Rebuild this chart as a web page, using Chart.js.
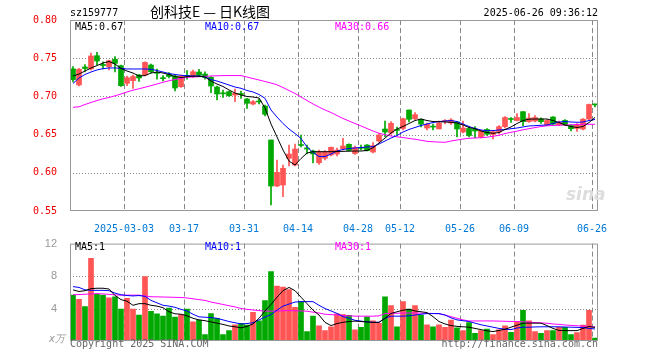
<!DOCTYPE html>
<html>
<head>
<meta charset="utf-8">
<script src="https://cdn.jsdelivr.net/npm/chart.js@4.4.1/dist/chart.umd.min.js"></script>
<style>
  body { margin: 0; background: #fff; width: 660px; height: 360px; position: relative; overflow: hidden;
         font-family: 'DejaVu Sans Mono', monospace; font-size: 10px; }
  canvas { position: absolute; left: 0; }
  .t { position: absolute; white-space: pre; line-height: 12px; }
</style>
</head>
<body>
<canvas id="kline" width="660" height="232" style="top:0"></canvas>
<canvas id="vol" width="660" height="128" style="top:232px"></canvas>

<div class="t" style="left:70px;top:7px">sz159777</div>
<div class="t" style="left:150px;top:2px;font:14px 'Noto Sans CJK SC';line-height:18px">创科技E — 日K线图</div>
<div class="t" style="right:62px;top:7px">2025-06-26 09:36:12</div>

<div class="t" style="left:75px;top:21px;color:#000">MA5:0.67</div>
<div class="t" style="left:205px;top:21px;color:#00f">MA10:0.67</div>
<div class="t" style="left:335px;top:21px;color:#f0f">MA30:0.66</div>
<div class="t" style="left:566px;top:184px;font:italic bold 17px 'DejaVu Sans';color:#ddd">sina</div>

<div class="t" style="left:75px;top:241px;color:#000">MA5:1</div>
<div class="t" style="left:205px;top:241px;color:#00f">MA10:1</div>
<div class="t" style="left:335px;top:241px;color:#f0f">MA30:1</div>
<div class="t" style="left:49px;top:333px;color:#999;font-style:italic">x万</div>

<div class="t" style="left:70px;top:338px;color:#666">Copyright 2025 SINA.COM</div>
<div class="t" style="right:62px;top:338px;color:#666">http://finance.sina.com.cn</div>

<script>
// trading days shown on the chart
const dates = [
  '2025-02-18','2025-02-19','2025-02-20','2025-02-21','2025-02-24','2025-02-25','2025-02-26','2025-02-27','2025-02-28',
  '2025-03-03','2025-03-04','2025-03-05','2025-03-06','2025-03-07','2025-03-10','2025-03-11','2025-03-12','2025-03-13','2025-03-14',
  '2025-03-17','2025-03-18','2025-03-19','2025-03-20','2025-03-21','2025-03-24','2025-03-25','2025-03-26','2025-03-27','2025-03-28',
  '2025-03-31','2025-04-01','2025-04-02','2025-04-03','2025-04-07','2025-04-08','2025-04-09','2025-04-10','2025-04-11',
  '2025-04-14','2025-04-15','2025-04-16','2025-04-17','2025-04-18','2025-04-21','2025-04-22','2025-04-23','2025-04-24','2025-04-25',
  '2025-04-28','2025-04-29','2025-04-30','2025-05-06','2025-05-07','2025-05-08','2025-05-09',
  '2025-05-12','2025-05-13','2025-05-14','2025-05-15','2025-05-16','2025-05-19','2025-05-20','2025-05-21','2025-05-22','2025-05-23',
  '2025-05-26','2025-05-27','2025-05-28','2025-05-29','2025-05-30','2025-06-03','2025-06-04','2025-06-05','2025-06-06',
  '2025-06-09','2025-06-10','2025-06-11','2025-06-12','2025-06-13','2025-06-16','2025-06-17','2025-06-18','2025-06-19','2025-06-20',
  '2025-06-23','2025-06-24','2025-06-25','2025-06-26'
];

// x axis labels
const tickDates = ['2025-03-03','2025-03-17','2025-03-31','2025-04-14','2025-04-28','2025-05-12','2025-05-26','2025-06-09','2025-06-26'];
const tickLabels = ['2025-03-03','03-17','03-31','04-14','04-28','05-12','05-26','06-09','06-26'];

const opens = [
  0.736,0.715,0.7385,0.7359,0.7533,0.7418,0.7389,0.7486,0.7402,0.7171,
  0.7206,0.728,0.728,0.7411,0.731,0.7241,0.7287,0.7267,0.7127,0.7274,
  0.7267,0.7319,0.7293,0.725,0.7123,0.7045,0.7062,0.7018,0.7035,0.6966,
  0.69,0.6936,0.6874,0.6429,0.5827,0.584,0.619,0.6102,0.637,0.6325,
  0.6285,0.6132,0.619,0.6233,0.6246,0.6316,0.6373,0.6253,0.633,0.6364,
  0.6272,0.6416,0.6573,0.6521,0.6565,0.658,0.6822,0.6708,0.6701,0.6586,
  0.6608,0.6575,0.667,0.6652,0.6665,0.6534,0.658,0.6573,0.6469,0.6567,
  0.6501,0.6534,0.6604,0.6708,0.6685,0.68,0.6669,0.6678,0.6704,0.6626,
  0.673,0.6626,0.6685,0.6619,0.658,0.6573,0.6704,0.6898
];
const closes = [
  0.722,0.7355,0.7365,0.7529,0.7463,0.7404,0.7467,0.7433,0.714,0.7245,
  0.726,0.7241,0.7446,0.7323,0.7302,0.7232,0.726,0.711,0.7267,0.7263,
  0.7323,0.7276,0.725,0.7136,0.7031,0.7034,0.7009,0.704,0.7025,0.691,
  0.6931,0.6927,0.6766,0.5827,0.6006,0.6059,0.6246,0.6311,0.6357,0.6311,
  0.6246,0.6276,0.6276,0.6334,0.6298,0.6351,0.6292,0.6331,0.632,0.6289,
  0.6355,0.6495,0.6534,0.6648,0.6555,0.6708,0.67,0.6761,0.6637,0.6636,
  0.6598,0.6652,0.6682,0.6691,0.6573,0.6586,0.6488,0.6547,0.6547,0.6504,
  0.6538,0.6604,0.6724,0.6698,0.6724,0.6669,0.6717,0.6724,0.6669,0.6685,
  0.6636,0.6661,0.6626,0.6577,0.6632,0.6702,0.6894,0.6889
];
const highs = [
  0.739,0.7368,0.7418,0.7568,0.7577,0.7454,0.7476,0.752,0.7411,0.7267,
  0.728,0.7287,0.7454,0.7424,0.7359,0.7271,0.7313,0.728,0.728,0.7339,
  0.7346,0.7355,0.7323,0.726,0.7136,0.7084,0.7071,0.7097,0.7071,0.6975,
  0.6944,0.6966,0.6887,0.6429,0.6167,0.6102,0.6364,0.6377,0.6495,0.6364,
  0.6298,0.6298,0.6292,0.6338,0.6325,0.645,0.638,0.6351,0.6364,0.637,
  0.6397,0.6515,0.6678,0.6669,0.66,0.6717,0.6822,0.6789,0.6704,0.6652,
  0.6639,0.6678,0.6697,0.671,0.6671,0.6678,0.6606,0.6604,0.656,0.658,
  0.6547,0.6617,0.6737,0.6724,0.6776,0.6802,0.6776,0.675,0.6721,0.6697,
  0.6737,0.6678,0.6697,0.6632,0.6645,0.6711,0.6901,0.6901
];
const lows = [
  0.719,0.7136,0.7319,0.7346,0.7411,0.7359,0.7346,0.7319,0.713,0.714,
  0.7106,0.7195,0.7267,0.7306,0.7224,0.7202,0.7241,0.7071,0.7116,0.7224,
  0.725,0.7258,0.7224,0.7048,0.6953,0.6988,0.6999,0.6931,0.6975,0.6844,
  0.6887,0.69,0.6743,0.5578,0.5818,0.5687,0.6089,0.6089,0.6338,0.6246,
  0.6128,0.6111,0.6167,0.622,0.622,0.6298,0.6285,0.624,0.6298,0.6285,
  0.6259,0.6403,0.6473,0.6501,0.6495,0.656,0.6665,0.6691,0.66,0.656,
  0.656,0.6573,0.6639,0.6632,0.6469,0.6521,0.6469,0.6456,0.6456,0.6488,
  0.6442,0.6508,0.6586,0.6659,0.6678,0.6617,0.6659,0.6665,0.6645,0.6619,
  0.6632,0.6617,0.6617,0.6547,0.6541,0.656,0.6691,0.6861
];

const ma5 = [
  0.7267,0.7293,0.7332,0.7372,0.7404,0.7437,0.7457,0.7424,0.7365,0.7332,
  0.7306,0.7267,0.7273,0.7306,0.7319,0.7306,0.7287,0.7260,0.7247,0.7258,
  0.7264,0.7263,0.7254,0.7201,0.7162,0.7130,0.7084,0.7044,0.7018,0.6999,
  0.6992,0.6979,0.6848,0.6639,0.6469,0.6298,0.6154,0.6102,0.6187,0.6259,
  0.6276,0.6276,0.6276,0.6276,0.6279,0.6281,0.6283,0.6285,0.6285,0.6292,
  0.6328,0.6390,0.6455,0.6521,0.6573,0.6606,0.6645,0.6684,0.6704,0.6684,
  0.6671,0.6669,0.6665,0.6661,0.6652,0.6626,0.6593,0.6577,0.6547,0.6527,
  0.6517,0.6527,0.6567,0.6600,0.6645,0.6684,0.6702,0.6704,0.6704,0.6704,
  0.6684,0.6658,0.6626,0.6606,0.6593,0.6606,0.6658,0.6724
];
const ma10 = [
  0.7169,0.7241,0.7287,0.7319,0.7346,0.7363,0.7372,0.7372,0.7368,0.7359,
  0.7359,0.7359,0.7359,0.7355,0.7339,0.7319,0.7300,0.7287,0.7276,0.7271,
  0.7267,0.7267,0.7254,0.7221,0.7201,0.7175,0.7149,0.7123,0.7106,0.7077,
  0.7058,0.7025,0.6975,0.6822,0.6730,0.6645,0.6573,0.6514,0.6449,0.6338,
  0.6266,0.6213,0.6213,0.6246,0.6285,0.6305,0.6318,0.6325,0.6331,0.6338,
  0.6342,0.6377,0.6416,0.6455,0.6488,0.6534,0.6567,0.6593,0.6619,0.6639,
  0.6658,0.6671,0.6678,0.6684,0.6671,0.6639,0.6606,0.6580,0.6560,0.6551,
  0.6553,0.6560,0.6567,0.6577,0.6586,0.6600,0.6613,0.6617,0.6622,0.6626,
  0.6645,0.6665,0.6671,0.6665,0.6661,0.6665,0.6684,0.6698
];
const ma30 = [
  0.6857,0.6864,0.6894,0.6920,0.6946,0.6969,0.6986,0.7008,0.7031,0.7058,
  0.7081,0.7100,0.7120,0.7141,0.7162,0.7185,0.7205,0.7221,0.7237,0.7249,
  0.7254,0.7258,0.7263,0.7267,0.7270,0.7272,0.7273,0.7273,0.7272,0.7254,
  0.7234,0.7215,0.7195,0.7175,0.7152,0.7116,0.7077,0.7038,0.6992,0.6946,
  0.6901,0.6861,0.6822,0.6789,0.6750,0.6711,0.6678,0.6645,0.6613,0.6580,
  0.6547,0.6518,0.6499,0.6482,0.6471,0.6462,0.6449,0.6439,0.6426,0.6412,
  0.6406,0.6402,0.6399,0.6416,0.6429,0.6442,0.6452,0.6456,0.6459,0.6466,
  0.6478,0.6491,0.6514,0.6530,0.6545,0.6563,0.6577,0.6592,0.6605,0.6615,
  0.6619,0.6623,0.6626,0.6628,0.6632,0.6635,0.6635,0.6635
];

// volume, 万手
const volumes = [
  5.65,5.13,4.25,10.2,5.76,5.65,5.33,5.45,3.93,5.25,
  3.93,3.18,7.95,3.66,3.34,3.06,4.05,2.94,3.27,3.93,
  2.35,2.59,0.80,3.38,2.79,0.80,1.28,1.99,2.19,1.95,
  3.54,2.47,4.97,8.55,6.76,6.64,6.32,4.14,4.85,1.16,
  3.06,1.87,1.28,1.75,3.34,3.27,3.15,1.39,1.67,2.98,
  2.47,2.19,5.45,4.37,1.75,4.85,3.93,4.37,3.18,1.99,
  1.75,1.99,1.67,2.59,1.63,1.28,2.27,0.95,1.28,1.48,
  0.80,1.39,1.87,1.07,2.38,3.78,2.47,1.16,0.95,1.28,
  1.28,1.67,1.67,0.80,1.04,1.95,3.78,0.36
];
const volMa5 = [
  6.3,6.1,6.2,6.45,6.5,6.5,6.4,5.6,5.1,4.9,
  4.4,4.6,4.6,4.4,4.3,4.1,3.6,3.35,3.3,3.1,
  2.8,2.6,2.5,2.35,2.2,2.05,1.85,1.75,1.62,1.8,
  2.1,2.8,3.7,4.5,5.4,6.2,6.6,6.2,5.4,4.6,
  3.8,3.2,2.3,1.9,2.15,2.3,2.4,2.45,2.4,2.35,
  2.3,2.3,2.8,3.4,3.6,3.8,3.9,3.7,3.6,3.5,
  3.0,2.4,2.1,1.9,1.8,1.75,1.7,1.55,1.4,1.25,
  1.16,1.3,1.45,1.7,1.95,2.2,2.2,2.2,2.2,1.9,
  1.55,1.3,1.28,1.28,1.28,1.55,1.79,1.67
];
const volMa10 = [
  6.7,6.6,6.3,6.24,6.24,6.24,6.2,5.9,5.7,5.6,
  5.55,5.6,5.5,5.0,4.7,4.4,4.3,4.15,3.9,3.7,
  3.3,2.97,2.93,2.88,2.8,2.6,2.4,2.25,2.1,2.15,
  2.25,2.6,2.95,3.25,3.8,4.3,4.55,4.8,4.85,4.85,
  4.85,4.4,4.0,3.7,3.4,3.0,2.8,2.55,2.45,2.35,
  2.3,2.3,2.8,3.06,3.06,3.06,3.1,3.2,3.3,3.38,
  3.38,3.38,3.2,2.85,2.6,2.5,2.4,2.2,2.0,1.85,
  1.7,1.55,1.45,1.4,1.6,1.7,1.7,1.73,1.75,1.75,
  1.75,1.75,1.72,1.7,1.68,1.65,1.55,1.48
];
const volMa30 = [
  5.7,5.72,5.76,5.8,5.84,5.8,5.75,5.68,5.65,5.65,
  5.65,5.65,5.55,5.45,5.44,5.42,5.4,5.38,5.36,5.3,
  5.2,5.1,5.0,4.8,4.65,4.5,4.35,4.2,4.0,3.9,
  3.82,3.75,3.68,3.68,3.7,3.72,3.74,3.72,3.7,3.67,
  3.55,3.45,3.3,3.25,3.2,3.15,3.1,3.06,3.06,3.06,
  3.06,3.1,3.38,3.4,3.42,3.44,3.46,3.45,3.43,3.41,
  3.39,3.36,3.2,3.0,2.8,2.6,2.47,2.47,2.47,2.47,
  2.47,2.45,2.43,2.41,2.39,2.36,2.32,2.27,2.23,2.19,
  2.1,2.05,1.97,1.92,1.88,1.84,1.8,1.75
];

const RED = 'rgb(255,85,85)';
const GREEN = 'rgb(0,168,0)';
const GRID = '#888';
const mono = { family: 'DejaVu Sans Mono', size: 10 };

const candleColors = opens.map((o, i) => closes[i] >= o ? RED : GREEN);
const tickIdx = tickDates.map(d => dates.indexOf(d));

// dashed date lines and dotted level lines, put behind the marks
const gridLines = {
  id: 'gridLines',
  afterDatasetsDraw(chart) {
    const { ctx, chartArea: a, scales: { x, y } } = chart;
    const half = (x.getPixelForValue(1) - x.getPixelForValue(0)) / 2;
    ctx.save();
    ctx.globalCompositeOperation = 'destination-over';
    ctx.lineWidth = 1;
    ctx.strokeStyle = GRID;
    ctx.setLineDash([5, 3]);
    tickIdx.forEach(i => {
      const px = Math.round(x.getPixelForValue(i) - half) + 0.5;
      ctx.beginPath();
      ctx.moveTo(px, a.top);
      ctx.lineTo(px, a.bottom);
      ctx.stroke();
    });
    ctx.setLineDash([1, 2]);
    y.ticks.forEach(t => {
      if (t.value <= y.min + 1e-6 || t.value >= y.max - 1e-6) return;
      const py = Math.round(y.getPixelForValue(t.value)) + 0.5;
      ctx.beginPath();
      ctx.moveTo(a.left, py);
      ctx.lineTo(a.right, py);
      ctx.stroke();
    });
    ctx.restore();
  }
};

// gray frame around the plot area
const frame = {
  id: 'frame',
  afterDraw(chart) {
    const { ctx, chartArea: a } = chart;
    ctx.save();
    ctx.strokeStyle = '#999';
    ctx.lineWidth = 1;
    ctx.strokeRect(a.left + 0.5, a.top + 0.5, a.right - a.left - 1, a.bottom - a.top - 1);
    ctx.restore();
  }
};

function maLine(data, color) {
  return { type: 'line', data: data, borderColor: color, borderWidth: 1, pointRadius: 0, tension: 0, order: 0 };
}

function xAxis(showLabels, height) {
  return {
    offset: true,
    grid: { display: false },
    border: { display: false },
    ticks: {
      display: showLabels, autoSkip: false, maxRotation: 0, minRotation: 0, labelOffset: -3, padding: 4,
      color: '#0078d7', font: mono,
      callback: (v, i) => { const k = tickIdx.indexOf(i); return k < 0 ? '' : tickLabels[k]; }
    },
    afterFit: s => { s.height = height; }
  };
}

// K line chart
new Chart(document.getElementById('kline').getContext('2d'), {
  type: 'bar',
  data: {
    labels: dates,
    datasets: [
      maLine(ma5, '#000'),
      maLine(ma10, '#00f'),
      maLine(ma30, '#f0f'),
      { data: opens.map((o, i) => [o, closes[i]]), backgroundColor: candleColors, barThickness: 5, minBarLength: 1, grouped: false, order: 1 },
      { data: lows.map((l, i) => [l, highs[i]]), backgroundColor: candleColors, barThickness: 1, grouped: false, order: 2 }
    ]
  },
  options: {
    responsive: false,
    animation: false,
    layout: { padding: { top: 20, right: 62, left: 0, bottom: 0 } },
    plugins: { legend: { display: false }, tooltip: { enabled: false } },
    scales: {
      x: xAxis(true, 21),
      y: {
        min: 0.55, max: 0.80,
        ticks: { stepSize: 0.05, color: '#e00', padding: 5, font: mono, callback: v => v.toFixed(2) },
        grid: { display: false },
        border: { display: false },
        afterFit: s => { s.width = 70; }
      }
    }
  },
  plugins: [gridLines, frame]
});

// volume chart
new Chart(document.getElementById('vol').getContext('2d'), {
  type: 'bar',
  data: {
    labels: dates,
    datasets: [
      maLine(volMa5, '#000'),
      maLine(volMa10, '#00f'),
      maLine(volMa30, '#f0f'),
      { data: volumes, backgroundColor: candleColors, barThickness: 5, order: 1 }
    ]
  },
  options: {
    responsive: false,
    animation: false,
    layout: { padding: { top: 8, right: 62, left: 0, bottom: 0 } },
    plugins: { legend: { display: false }, tooltip: { enabled: false } },
    scales: {
      x: xAxis(false, 19),
      y: {
        min: 0, max: 12,
        ticks: { stepSize: 4, color: '#999', padding: 5, font: { family: 'Liberation Sans', size: 11 },
                 callback: v => v === 0 ? '' : v },
        grid: { display: false },
        border: { display: false },
        afterFit: s => { s.width = 70; }
      }
    }
  },
  plugins: [gridLines, frame]
});
</script>
</body>
</html>
